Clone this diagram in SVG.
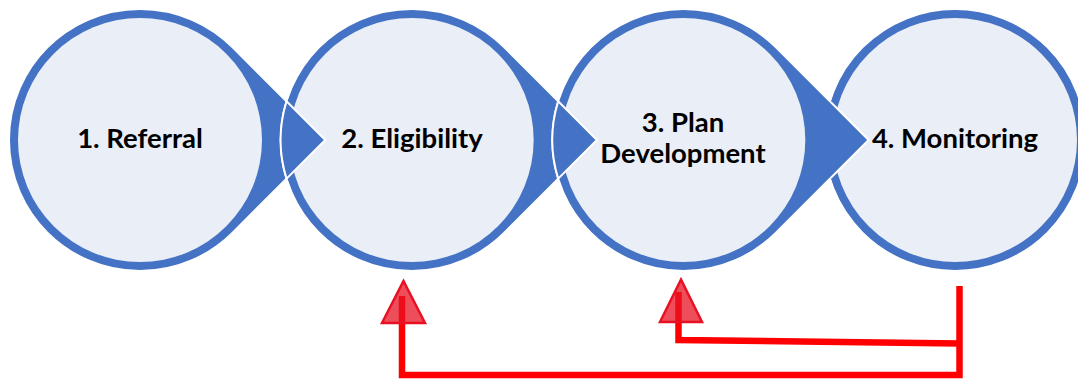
<svg xmlns="http://www.w3.org/2000/svg" width="1078" height="379" viewBox="0 0 1078 379">
  <style>
    .drop { fill: #4472C4; stroke: #FFFFFF; stroke-width: 2; stroke-linejoin: miter; }
    .body { fill: #E9EEF7; }
    .ring { fill: #E9EEF7; stroke: #4472C4; stroke-width: 8; }
    .tip { fill: #4472C4; stroke: #FFFFFF; stroke-width: 2; }
    .tipfill { fill: #4472C4; stroke: none; }
    .tipedge { fill: none; stroke: #FFFFFF; stroke-width: 2; }
    .label { font-family: Lato, "Liberation Sans", Arial, sans-serif; font-weight: bold; font-size: 27.5px; fill: #000000; text-anchor: middle; }
    .feedback { fill: none; stroke: #FF0000; stroke-width: 6.5; stroke-linejoin: miter; stroke-linecap: butt; }
    .head { fill: #E81123; fill-opacity: 0.75; stroke: #E81123; stroke-width: 2.5; stroke-linejoin: miter; }
  </style>

  <g id="node-1">
    <path class="drop" d="M 232.63 47.37 L 325.26 140 L 232.63 232.63 A 131 131 0 1 1 232.63 47.37 Z"/>
    <circle class="body" cx="140" cy="140" r="122"/>
    <text class="label" x="140" y="148">1. Referral</text>
  </g>

  <g id="node-2">
    <path class="drop" d="M 504.30 47.37 L 596.93 140 L 504.30 232.63 A 131 131 0 1 1 504.30 47.37 Z"/>
    <circle class="body" cx="411.67" cy="140" r="122"/>
    <text class="label" x="412" y="148">2. Eligibility</text>
  </g>

  <g id="node-3">
    <path class="drop" d="M 775.96 47.37 L 868.59 140 L 775.96 232.63 A 131 131 0 1 1 775.96 47.37 Z"/>
    <circle class="body" cx="683.33" cy="140" r="122"/>
    <text class="label" x="683" y="132">3. Plan</text>
    <text class="label" x="683" y="163">Development</text>
  </g>

  <g id="node-4">
    <circle class="ring" cx="955" cy="140" r="126"/>
    <text class="label" x="955" y="148">4. Monitoring</text>
  </g>

  <g id="arrow-tips">
    <path class="tip" d="M 286.53 101.27 L 325.26 140 L 286.53 178.73 A 131 131 0 0 1 286.53 101.27 Z"/>
    <path class="tip" d="M 558.20 101.27 L 596.93 140 L 558.20 178.73 A 131 131 0 0 1 558.20 101.27 Z"/>
    <path class="tipfill" d="M 830.66 102.06 L 868.59 140 L 830.66 177.94 A 130 130 0 0 1 830.66 102.06 Z"/>
    <polyline class="tipedge" points="830.66,102.06 868.59,140 830.66,177.94"/>
  </g>

  <g id="connectors">
    <polyline class="feedback" points="959.5,286 959.5,375 402,375 402,296"/>
    <polyline class="feedback" points="959.5,343.5 678.5,340 678.5,292"/>
    <polygon class="head" points="403.5,281 425,323 382,323"/>
    <polygon class="head" points="681,279.5 702,322 660,322"/>
  </g>
</svg>
